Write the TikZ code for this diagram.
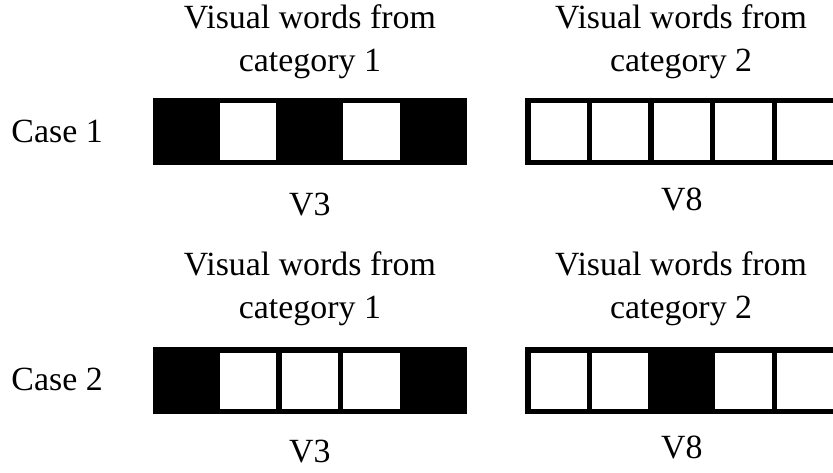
\documentclass[tikz,border=0pt]{standalone}
\usepackage{fontspec}
\setmainfont{Liberation Serif}
\usepackage{xcolor}
\tikzset{
  wordcell/.style={draw=black, fill=white, line width=4.1pt, minimum size=1.63cm, inner sep=0pt},
  hitcell/.style={wordcell, fill=black},
  txt/.style={font=\fontsize{25.5}{32.25}\selectfont, inner sep=0pt, anchor=base, align=center}
}

\begin{document}
\begin{tikzpicture}
      \clip (0, 0) rectangle (22.04, -12.49);
      % case 1
      \node[txt] (case1) at (1.51, -3.78) {Case 1};
      \node[txt] (headA1) at (8.20, -1.90) {Visual words from\\category 1};
      \node[txt] (headB1) at (18.02, -1.90) {Visual words from\\category 2};
      \node[hitcell] (v3a1) at (4.94, -3.48) {};
      \node[wordcell] (v3a2) at (6.57, -3.48) {};
      \node[hitcell] (v3a3) at (8.20, -3.48) {};
      \node[wordcell] (v3a4) at (9.83, -3.48) {};
      \node[hitcell] (v3a5) at (11.46, -3.48) {};
      \node[wordcell] (v8a1) at (14.78, -3.48) {};
      \node[wordcell] (v8a2) at (16.41, -3.48) {};
      \node[wordcell] (v8a3) at (18.04, -3.48) {};
      \node[wordcell] (v8a4) at (19.67, -3.48) {};
      \node[wordcell] (v8a5) at (21.30, -3.48) {};
      \node[txt] (nameA1) at (8.20, -5.69) {V3};
      \node[txt] (nameB1) at (18.04, -5.58) {V8};
      % case 2
      \node[txt] (case2) at (1.51, -10.32) {Case 2};
      \node[txt] (headA2) at (8.20, -8.43) {Visual words from\\category 1};
      \node[txt] (headB2) at (18.02, -8.43) {Visual words from\\category 2};
      \node[hitcell] (v3b1) at (4.94, -10.07) {};
      \node[wordcell] (v3b2) at (6.57, -10.07) {};
      \node[wordcell] (v3b3) at (8.20, -10.07) {};
      \node[wordcell] (v3b4) at (9.83, -10.07) {};
      \node[hitcell] (v3b5) at (11.46, -10.07) {};
      \node[wordcell] (v8b1) at (14.78, -10.07) {};
      \node[wordcell] (v8b2) at (16.41, -10.07) {};
      \node[hitcell] (v8b3) at (18.04, -10.07) {};
      \node[wordcell] (v8b4) at (19.67, -10.07) {};
      \node[wordcell] (v8b5) at (21.30, -10.07) {};
      \node[txt] (nameA2) at (8.20, -12.25) {V3};
      \node[txt] (nameB2) at (18.04, -12.14) {V8};
    \end{tikzpicture}
\end{document}
